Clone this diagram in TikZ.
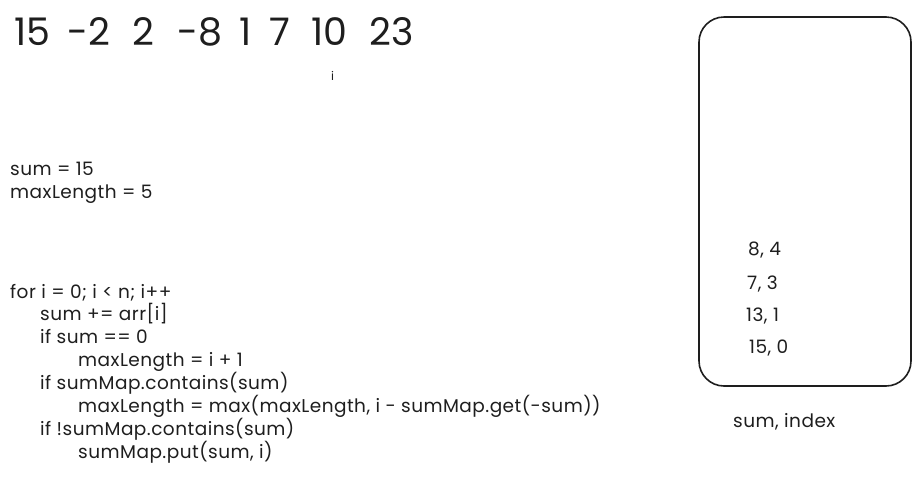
\documentclass[tikz,border=0pt]{standalone}
\usepackage{fontspec}
\setmainfont{Poppins}
\definecolor{ink}{HTML}{1E1E1E}
\begin{document}
\begin{tikzpicture}[x=1pt,y=-1pt,
  txt/.style={anchor=base west,inner sep=0pt,text=ink,font=\fontsize{18.5}{20}\selectfont\addfontfeature{LetterSpace=2.5}},
  big/.style={anchor=base west,inner sep=0pt,text=ink,font=\fontsize{38}{40}\selectfont},
  mapbox/.style={draw=ink,line width=1.6pt,rounded corners=25pt}]
\useasboundingbox (0,0) rectangle (920,488);
\node[big] (arr) at (14,45) {\makebox[53pt][l]{15}\makebox[65pt][l]{-2}\makebox[45pt][l]{2}\makebox[62pt][l]{-8}\makebox[30pt][l]{1}\makebox[42pt][l]{7}\makebox[58pt][l]{10}23};
\node[txt,font=\fontsize{12}{12}\selectfont] (ptr) at (331,80) {i};
\node[txt] (s) at (10,175) {sum = 15};
\node[txt] (ml) at (10,198) {maxLength = 5};
\node[txt] (c1) at (10,298) {for i = 0; i < n; i++};
\node[txt] (c2) at (40,320) {sum += arr[i]};
\node[txt] (c3) at (40,343) {if sum == 0};
\node[txt] (c4) at (78,366) {maxLength = i + 1};
\node[txt] (c5) at (40,389) {if sumMap.contains(sum)};
\node[txt] (c6) at (78,412) {maxLength = max(maxLength, i - sumMap.get(-sum))};
\node[txt] (c7) at (40,435) {if !sumMap.contains(sum)};
\node[txt] (c8) at (78,458) {sumMap.put(sum, i)};
\draw[mapbox] (699,17) rectangle (911,386);
\node[txt] (e1) at (748,255) {8, 4};
\node[txt] (e2) at (747,289) {7, 3};
\node[txt] (e3) at (746,321) {13, 1};
\node[txt] (e4) at (749,353) {15, 0};
\node[txt] (lbl) at (733,427) {sum, index};
\end{tikzpicture}
\end{document}
